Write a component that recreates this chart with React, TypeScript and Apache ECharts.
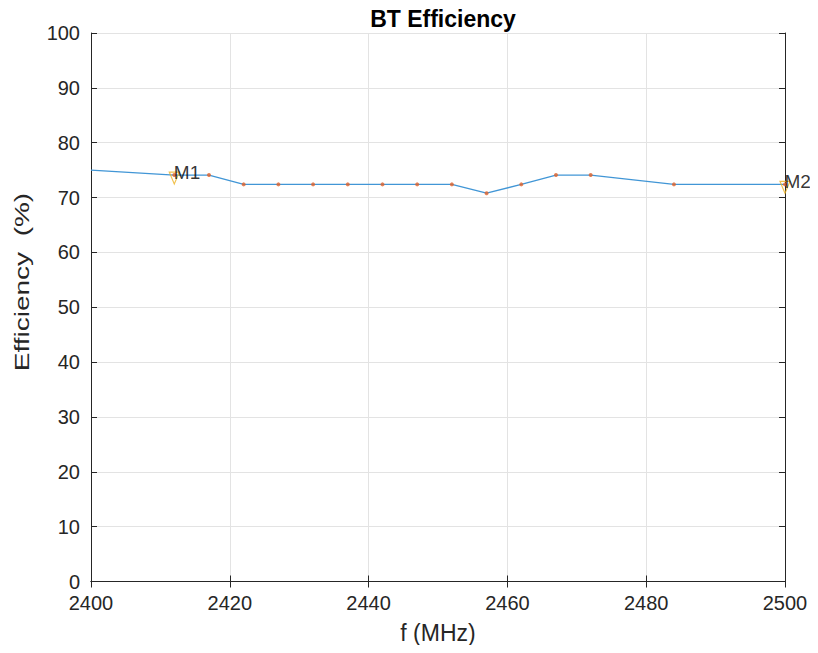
import React, { useEffect, useRef } from "react";
import * as echarts from "echarts";

const title = "BT Efficiency";
const xName = "f (MHz)";
const yName = "Efficiency  (%)";

// blue trace (MHz, %)
const traceFreq = [2400, 2412, 2417, 2422, 2427, 2432, 2437, 2442, 2447, 2452, 2457, 2462, 2467, 2472, 2484, 2500];
const traceEff = [75.0, 74.1, 74.1, 72.4, 72.4, 72.4, 72.4, 72.4, 72.4, 72.4, 70.8, 72.4, 74.1, 74.1, 72.4, 72.4];

// measured points (red dots)
const dotFreq = [2412, 2417, 2422, 2427, 2432, 2437, 2442, 2447, 2452, 2457, 2462, 2467, 2472, 2484, 2500];
const dotEff = [74.1, 74.1, 72.4, 72.4, 72.4, 72.4, 72.4, 72.4, 72.4, 70.8, 72.4, 74.1, 74.1, 72.4, 72.4];

// markers
const markerNames = ["M1", "M2"];
const markerFreq = [2412, 2500];
const markerEff = [74.1, 72.4];

const FONT = "Liberation Sans, Arial, Helvetica, sans-serif";
const TXT = "#262626";

export default function App() {
  const ref = useRef<HTMLDivElement>(null);
  useEffect(() => {
    if (!ref.current) return;
    const chart = echarts.init(ref.current, undefined, { renderer: "svg" });
    const axisCommon = {
      axisLine: { show: true, lineStyle: { color: TXT, width: 1 } },
      axisTick: { show: true, inside: true, length: 6, lineStyle: { color: TXT } },
      splitLine: { show: true, lineStyle: { color: "#e3e3e3", width: 1 } },
    };
    chart.setOption({
      animation: false,
      backgroundColor: "#ffffff",
      title: {
        text: title,
        left: 438,
        textAlign: "center",
        top: 2,
        textStyle: { fontFamily: FONT, fontSize: 23, fontWeight: "bold", color: "#000" },
      },
      grid: { left: 91, right: 33, top: 33, bottom: 71.5, containLabel: false },
      xAxis: [
        {
          type: "value",
          min: 2400,
          max: 2500,
          interval: 20,
          name: xName,
          nameLocation: "middle",
          nameGap: 40,
          nameTextStyle: { fontFamily: FONT, fontSize: 23, color: TXT },
          axisLabel: {
            fontFamily: FONT,
            fontSize: 20,
            color: TXT,
            margin: 11,
            formatter: (v: number) => String(v),
          },
          ...axisCommon,
        },
        {
          type: "value",
          position: "top",
          min: 2400,
          max: 2500,
          interval: 20,
          axisLabel: { show: false },
          axisLine: { show: true, lineStyle: { color: TXT, width: 1 } },
          axisTick: { show: true, inside: true, length: 6, lineStyle: { color: TXT } },
          splitLine: { show: false },
        },
      ],
      yAxis: [
        {
          type: "value",
          min: 0,
          max: 100,
          interval: 10,
          axisLabel: { fontFamily: FONT, fontSize: 20, color: TXT, margin: 11 },
          ...axisCommon,
        },
        {
          type: "value",
          position: "right",
          min: 0,
          max: 100,
          interval: 10,
          axisLabel: { show: false },
          axisLine: { show: true, lineStyle: { color: TXT, width: 1 } },
          axisTick: { show: true, inside: true, length: 6, lineStyle: { color: TXT } },
          splitLine: { show: false },
        },
      ],
      graphic: [
        {
          type: "text",
          x: 22,
          y: 282,
          rotation: Math.PI / 2,
          scaleX: 1.4,
          style: {
            text: yName,
            font: `20px ${FONT}`,
            fill: TXT,
            align: "center",
            verticalAlign: "middle",
          },
        },
      ],
      series: [
        {
          type: "line",
          data: traceFreq.map((f, i) => [f, traceEff[i]]),
          showSymbol: false,
          lineStyle: { color: "#4196d6", width: 1.3 },
          z: 2,
        },
        {
          type: "scatter",
          data: dotFreq.map((f, i) => [f, dotEff[i]]),
          symbol: "circle",
          symbolSize: 4,
          itemStyle: { color: "#e0622a" },
          z: 3,
        },
        {
          type: "scatter",
          data: markerFreq.map((f, i) => ({ value: [f, markerEff[i]], name: markerNames[i] })),
          symbol: "triangle",
          symbolRotate: 180,
          symbolSize: [10, 12],
          symbolOffset: [0, 3],
          itemStyle: { color: "rgba(0,0,0,0)", borderColor: "#edb120", borderWidth: 1.2 },
          label: {
            show: true,
            position: "right",
            distance: -6,
            offset: [0, -6],
            formatter: (p: any) => p.name,
            fontFamily: FONT,
            fontSize: 19,
            color: "#000",
          },
          z: 4,
        },
      ],
    });
    return () => chart.dispose();
  }, []);
  return <div ref={ref} style={{ width: 818, height: 653, margin: -8 }} />;
}
